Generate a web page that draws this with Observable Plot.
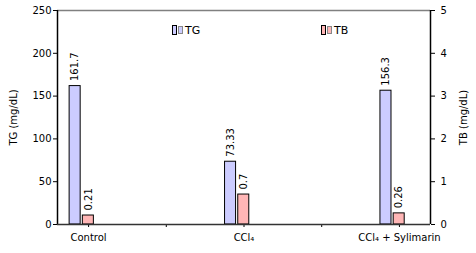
<!DOCTYPE html>
<html><head><meta charset="utf-8">
<script src="https://cdn.jsdelivr.net/npm/d3@7"></script>
<script src="https://cdn.jsdelivr.net/npm/@observablehq/plot@0.6"></script>
<style>
body{margin:0;background:#fff;}
#wrap{position:relative;width:476px;height:253px;font-family:"DejaVu Sans",sans-serif;}
.leg{position:absolute;font-size:11px;color:#000;display:flex;align-items:center;height:10px;}
.k1{display:inline-block;width:3px;height:8px;border:1px solid #000;margin-right:1px;}
.k2{display:inline-block;width:3px;height:6px;margin-right:2px;}
</style></head>
<body><div id="wrap"></div>
<script>
const categories = ["Control", "CCl₄", "CCl₄ + Sylimarin"];
const tgValues = [161.7, 73.33, 156.3];
const tbValues = [0.21, 0.7, 0.26];
const tgLabels = ["161.7", "73.33", "156.3"];
const tbLabels = ["0.21", "0.7", "0.26"];
const tgTicks = [0, 50, 100, 150, 200, 250];
const tbTicks = [0, 1, 2, 3, 4, 5];
const xTicks = [0, 0.5, 1, 1.5, 2];

const tbFactor = 250 / 5;
const xDomain = [-0.2, 2.2];
const tgColor = "#ccccff", tbColor = "#ffb6b6";

const data = categories.map((c, i) => ({i, c, tg: tgValues[i], tb: tbValues[i] * tbFactor, tgL: tgLabels[i], tbL: tbLabels[i]}));

const chart = Plot.plot({
  width: 476, height: 253,
  marginTop: 10, marginBottom: 29, marginLeft: 57, marginRight: 46,
  style: {fontFamily: "DejaVu Sans, sans-serif", fontSize: "10px", background: "#fff", color: "#000"},
  x: {domain: xDomain},
  y: {domain: [0, 250]},
  marks: [
    Plot.ruleY([250], {stroke: "#808080", strokeWidth: 1.5}),
    Plot.rect(data, {x1: d => d.i - 0.122, x2: d => d.i - 0.051, y1: 0, y2: "tg", fill: tgColor, stroke: "#000", strokeWidth: 1}),
    Plot.rect(data, {x1: d => d.i - 0.037, x2: d => d.i + 0.034, y1: 0, y2: "tb", fill: tbColor, stroke: "#000", strokeWidth: 1}),
    Plot.text(data, {x: d => d.i - 0.0865, y: "tg", text: "tgL", rotate: -90, textAnchor: "start", dy: -5, fontSize: 10}),
    Plot.text(data, {x: d => d.i - 0.0015, y: "tb", text: "tbL", rotate: -90, textAnchor: "start", dy: -5, fontSize: 10}),
    Plot.axisY(tgTicks, {anchor: "left", tickSize: 4, tickPadding: 2, label: "TG (mg/dL)", labelAnchor: "center", labelOffset: 48, labelArrow: "none", fontSize: 10}),
    Plot.axisY(tbTicks.map(d => d * tbFactor), {anchor: "right", tickSize: 4, tickPadding: 6, tickFormat: d => d / tbFactor, label: "TB (mg/dL)", labelAnchor: "center", labelOffset: 36, labelArrow: "none", fontSize: 10}),
    Plot.axisX(xTicks, {anchor: "bottom", tickSize: 3, tickPadding: 6, tickFormat: d => Number.isInteger(d) ? categories[d] : "", label: null, fontSize: 10}),
    Plot.ruleX([xDomain[0]], {stroke: "#000", strokeWidth: 1.5}),
    Plot.ruleX([xDomain[1]], {stroke: "#000", strokeWidth: 1.5}),
    Plot.ruleY([0], {stroke: "#333", strokeWidth: 1.5})
  ]
});
const wrap = document.getElementById("wrap");
wrap.appendChild(chart);
const legendItems = [["TG", tgColor, 172], ["TB", tbColor, 321]];
for (const [name, col, left] of legendItems) {
  const d = document.createElement("div");
  d.className = "leg";
  d.style.left = left + "px"; d.style.top = "25px";
  d.innerHTML = `<span class="k1" style="background:${col}"></span><span class="k2" style="background:${col};border:1px solid #888"></span>${name}`;
  wrap.appendChild(d);
}
</script></body></html>
